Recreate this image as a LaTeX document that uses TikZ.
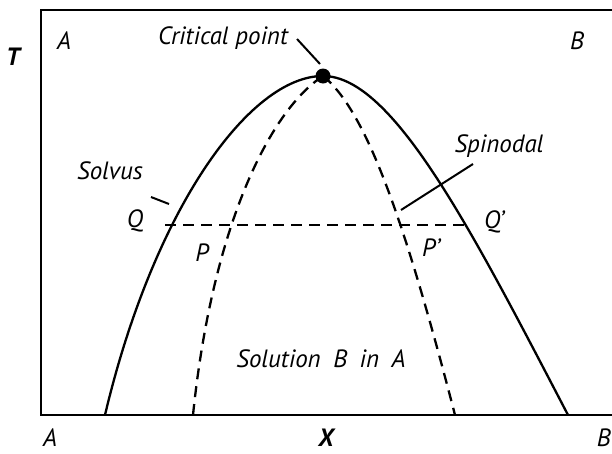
\documentclass[tikz,border=0pt]{standalone}
\usepackage{fontspec}
\setmainfont{PT Sans}
\begin{document}
\begin{tikzpicture}[x=1pt,y=-1pt,
  lbl/.style={font=\fontsize{25}{29}\selectfont\itshape, inner sep=0pt, anchor=base},
  blbl/.style={lbl, font=\fontsize{25}{29}\selectfont\bfseries\itshape},
  curve/.style={line width=2.3pt, line join=round, line cap=butt},
  dsh/.style={curve, dash pattern=on 11pt off 7pt},
  leader/.style={line width=2pt}
]
\useasboundingbox (0,0) rectangle (612,453);
\clip (0,0) rectangle (612,453);
\fill[white] (0,0) rectangle (612,453);

% frame
\draw[line width=2.3pt] (630,10) -- (41,10) -- (41,415) -- (630,415);

% key points
\coordinate (top) at (323,76);
\coordinate (sL) at (105,415);
\coordinate (sR) at (568,415);
\coordinate (dL) at (193,415);
\coordinate (dR) at (455,415);

% solvus
\draw[curve] (sL) .. controls (154,208) and (250,76) .. (top)
                  .. controls (393,76) and (472,231) .. (sR);

% spinodal
\draw[dsh] (dL) .. controls (212,230) and (268,112) .. (top);
\draw[dsh] (top) .. controls (368,112) and (407,230) .. (dR);

% tie line
\coordinate (Qp) at (165,225);
\coordinate (Qpp) at (470,225);
\draw[dsh] (Qp) -- (Qpp);

% critical point
\node[circle, fill=black, minimum size=15pt, inner sep=0pt] (cp) at (top) {};

% labels
\node[blbl] (T) at (13,65) {T};
\node[lbl] (Atop) at (64,49) {A};
\node[lbl] (Btop) at (577,49) {B};
\node[lbl] (crit) at (223,44) {Critical point};
\node[lbl] (spin) at (499,152) {Spinodal};
\node[lbl] (solv) at (110,179) {Solvus};
\node[lbl] (Q) at (135,227) {Q};
\node[lbl] (Qprime) at (494,228) {Q’};
\node[lbl] (P) at (202,261) {P};
\node[lbl] (Pprime) at (431,256) {P’};
\node[lbl] (sol) at (321,367) {Solution\hspace{0.5em}B\hspace{0.5em}in\hspace{0.5em}A};
\node[blbl] (X) at (326,446) {X};
\node[lbl] (Abot) at (50,446) {A};
\node[lbl, anchor=base east] (Bbot) at (611,446) {B};

% leaders
\coordinate (c1) at (297,39);
\coordinate (c2) at (320,64);
\draw[leader] (c1) -- (c2);
\coordinate (s1) at (151,197);
\coordinate (s2) at (169,204);
\draw[leader] (s1) -- (s2);
\coordinate (p1) at (401,210);
\coordinate (p2) at (473,164);
\draw[leader] (p1) -- (p2);
\end{tikzpicture}
\end{document}
